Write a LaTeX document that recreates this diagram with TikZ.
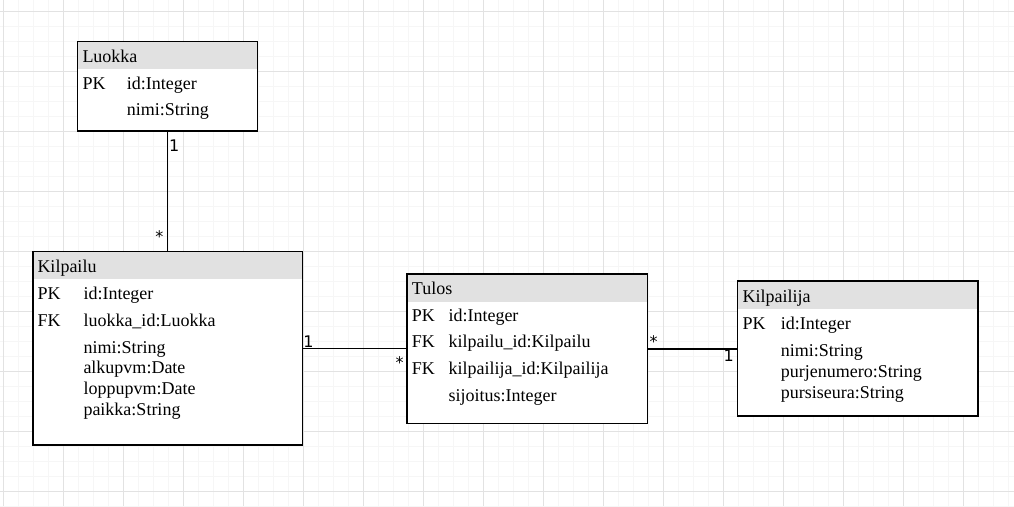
\documentclass[tikz,border=0pt]{standalone}
\usepackage{fontspec}
\setmainfont{Liberation Serif}
\newfontfamily\multfont{DejaVu Sans}
\usepackage{xcolor}
\usetikzlibrary{positioning,calc}

\definecolor{hdrgray}{RGB}{225,225,225}
\definecolor{gridminor}{RGB}{246,246,246}
\definecolor{gridmajor}{RGB}{226,226,226}

\begin{document}
\begin{tikzpicture}[x=1pt, y=-1pt,
		entity/.style={draw, line width=1.5pt, fill=white, anchor=north west, inner sep=0pt, outer sep=0pt,
			path picture={\fill[hdrgray] (path picture bounding box.north west) rectangle ([yshift=-27.5pt]path picture bounding box.north east);}},
		attr/.style={anchor=base west, inner sep=0pt, font=\fontsize{18}{21}\selectfont},
		mult/.style={anchor=base west, inner sep=0pt, font=\multfont\fontsize{16}{19}\selectfont},
		conn/.style={line width=1.5pt}]
			\useasboundingbox[fill=white] (0,0) rectangle (1014,506);
			% grid
			\foreach \i in {0,...,67} \draw[gridminor, line width=1.5pt] ({3.3+15*\i},0) -- ({3.3+15*\i},506);
			\foreach \j in {0,...,34} \draw[gridminor, line width=1.5pt] (0,{-3.3+15*\j}) -- (1014,{-3.3+15*\j});
			\foreach \i in {0,...,16} \draw[gridmajor, line width=1pt] ({3.3+60*\i},0) -- ({3.3+60*\i},506);
			\foreach \j in {0,...,8} \draw[gridmajor, line width=1pt] (0,{11.7+60*\j}) -- (1014,{11.7+60*\j});

			% Luokka
			\node[entity, minimum width=180pt, minimum height=89.5pt] (luokka) at (77.7,41.3) {};
			\node[attr] (luokka-t) at (82.3,62.3) {Luokka};
			\node[attr] (luokka-pk) at (82.3,89.3) {PK};
			\node[attr] (luokka-a1) at (126.7,89.3) {id:Integer};
			\node[attr] (luokka-a2) at (126.7,115) {nimi:String};

			% Kilpailu
			\node[entity, minimum width=269.5pt, minimum height=193.5pt] (kilpailu) at (33.2,251.5) {};
			\node[attr] (kilpailu-t) at (37.3,272.3) {Kilpailu};
			\node[attr] (kilpailu-pk) at (37.3,299) {PK};
			\node[attr] (kilpailu-a1) at (83.3,299) {id:Integer};
			\node[attr] (kilpailu-fk) at (37.3,326) {FK};
			\node[attr] (kilpailu-a2) at (83.3,326) {luokka\_id:Luokka};
			\node[attr] (kilpailu-a3) at (83.3,353.3) {nimi:String};
			\node[attr] (kilpailu-a4) at (83.3,373.8) {alkupvm:Date};
			\node[attr] (kilpailu-a5) at (83.3,394.5) {loppupvm:Date};
			\node[attr] (kilpailu-a6) at (83.3,415.4) {paikka:String};

			% Tulos
			\node[entity, minimum width=240.5pt, minimum height=149.5pt] (tulos) at (406.8,274) {};
			\node[attr] (tulos-t) at (411.7,294) {Tulos};
			\node[attr] (tulos-pk) at (411.7,321) {PK};
			\node[attr] (tulos-a1) at (448.3,321) {id:Integer};
			\node[attr] (tulos-fk1) at (411.7,347.7) {FK};
			\node[attr] (tulos-a2) at (448.3,347.7) {kilpailu\_id:Kilpailu};
			\node[attr] (tulos-fk2) at (411.7,374.3) {FK};
			\node[attr] (tulos-a3) at (448.3,374.3) {kilpailija\_id:Kilpailija};
			\node[attr] (tulos-a4) at (448.3,401.7) {sijoitus:Integer};

			% Kilpailija
			\node[entity, minimum width=240.5pt, minimum height=134.8pt] (kilpailija) at (737.3,281) {};
			\node[attr] (kilpailija-t) at (742.3,302.3) {Kilpailija};
			\node[attr] (kilpailija-pk) at (742.3,329) {PK};
			\node[attr] (kilpailija-a1) at (780.7,329) {id:Integer};
			\node[attr] (kilpailija-a2) at (780.7,356.7) {nimi:String};
			\node[attr] (kilpailija-a3) at (780.7,377.5) {purjenumero:String};
			\node[attr] (kilpailija-a4) at (780.7,398.3) {pursiseura:String};

			% relations
			\draw[conn] (luokka.south) -- (luokka.south |- kilpailu.north);
			\draw[conn] (kilpailu.east) -- (kilpailu.east -| tulos.west);
			\draw[conn] (tulos.east) -- (tulos.east -| kilpailija.west);
			\node[mult] (m-luokka) at (168.8,151.7) {1};
			\node[mult] (m-kilpailu1) at (155.1,242) {*};
			\node[mult] (m-kilpailu2) at (303.2,347.3) {1};
			\node[mult] (m-tulos1) at (395.4,368) {*};
			\node[mult] (m-tulos2) at (649.4,347.3) {*};
			\node[mult] (m-kilpailija) at (723.3,361.2) {1};
		\end{tikzpicture}
\end{document}
